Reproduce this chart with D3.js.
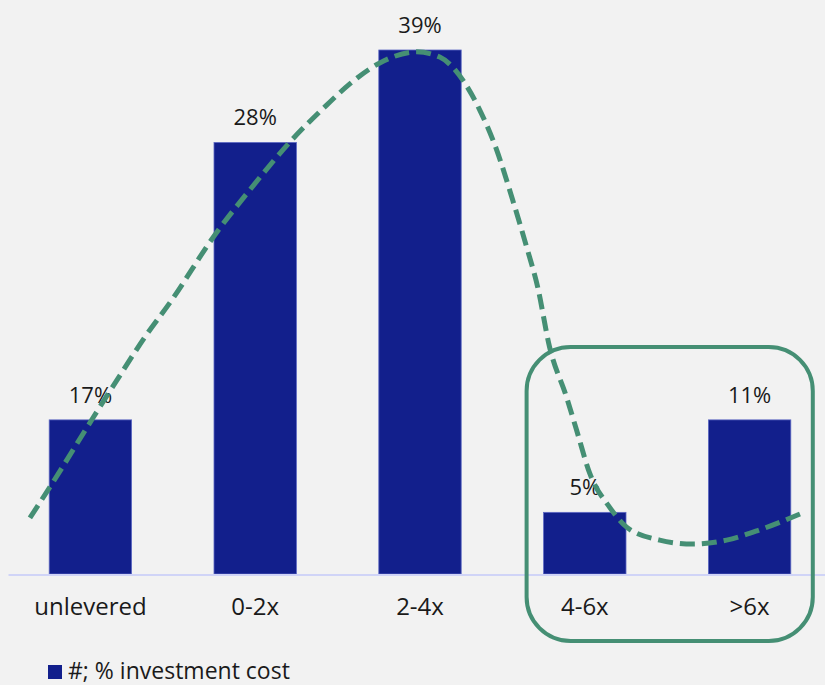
<!DOCTYPE html>
<html>
<head>
<meta charset="utf-8">
<script src="https://cdn.jsdelivr.net/npm/d3@7"></script>
<style>
  html, body { margin: 0; padding: 0; background: #f2f2f2; }
  svg { display: block; }
  text { font-family: "Open Sans", "DejaVu Sans", sans-serif; fill: #1a1a1a; }
</style>
</head>
<body>
<svg id="chart" width="825" height="685"></svg>
<script>
// Leverage buckets
const categories = ["unlevered", "0-2x", "2-4x", "4-6x", ">6x"];
// Number of deals per bucket (bar height)
const dealCounts = [5, 14, 17, 2, 5];
// Share of total investment cost per bucket (label above bar)
const costShares = [17, 28, 39, 5, 11];
// Buckets framed by the highlight box
const highlighted = ["4-6x", ">6x"];
// Hand-drawn trend curve: position along the category axis (0 = first bucket) and deal count
const trendPos   = [-0.367, -0.246, 0.015, 0.161, 0.331, 0.494, 0.755, 0.967, 1.222, 1.435, 1.574, 1.756, 1.980, 2.120, 2.259, 2.362, 2.465, 2.562, 2.647, 2.714, 2.786, 2.889, 2.950, 3.029, 3.150, 3.254, 3.454, 3.654, 3.860, 4.060, 4.333];
const trendCount = [1.82, 2.82, 5.06, 6.29, 7.69, 8.89, 11.00, 12.46, 14.08, 15.22, 15.90, 16.58, 16.94, 16.77, 16.03, 15.06, 13.76, 12.14, 10.61, 9.31, 7.37, 5.74, 4.67, 3.28, 2.17, 1.52, 1.10, 0.97, 1.10, 1.43, 2.01];
const legendLabel = "#; % investment cost";

const barColor = "#121f8c";
const green = "#458f74";

const svg = d3.select("#chart");

const x = d3.scaleBand()
  .domain(categories)
  .range([8, 832])
  .paddingInner(0.5)
  .paddingOuter(0.25);

const y = d3.scaleLinear()
  .domain([0, d3.max(dealCounts)])
  .range([574, 50]);

const bw = x.bandwidth();
const xPos = d3.scaleLinear()
  .domain([0, categories.length - 1])
  .range([x(categories[0]) + bw / 2, x(categories[categories.length - 1]) + bw / 2]);

const rows = categories.map((c, i) => ({ cat: c, count: dealCounts[i], share: costShares[i] }));

// Bars
svg.append("g").selectAll("rect")
  .data(rows)
  .join("rect")
  .attr("x", d => x(d.cat))
  .attr("y", d => y(d.count))
  .attr("width", bw)
  .attr("height", d => y(0) - y(d.count))
  .attr("fill", barColor)
  .attr("stroke", "#5d68c4")
  .attr("stroke-width", 0.8);

// Category axis
const axis = svg.append("g")
  .attr("transform", `translate(0,${y(0) + 0.5})`)
  .call(d3.axisBottom(x).tickSize(0).tickSizeOuter(0));
axis.select(".domain").attr("stroke", "#d0d4f7").attr("stroke-width", 2);
axis.selectAll(".tick text")
  .attr("y", 40)
  .attr("dy", 0)
  .attr("font-size", 24)
  .attr("font-family", "'Open Sans', 'DejaVu Sans', sans-serif")
  .attr("fill", "#1a1a1a");

// Value labels
svg.append("g").selectAll("text")
  .data(rows)
  .join("text")
  .attr("x", d => x(d.cat) + bw / 2)
  .attr("y", d => y(d.count) - 17)
  .attr("text-anchor", "middle")
  .attr("font-size", 22)
  .text(d => d.share + "%");

// Highlight box around the high-leverage buckets
const hx0 = x(highlighted[0]) - 17;
const hx1 = x(highlighted[highlighted.length - 1]) + bw + 22;
svg.append("rect")
  .attr("x", hx0)
  .attr("y", 347)
  .attr("width", hx1 - hx0)
  .attr("height", 294)
  .attr("rx", 44)
  .attr("ry", 44)
  .attr("fill", "none")
  .attr("stroke", green)
  .attr("stroke-width", 4);

// Dashed trend curve
const line = d3.line()
  .x(d => xPos(d[0]))
  .y(d => y(d[1]))
  .curve(d3.curveMonotoneX);
svg.append("path")
  .datum(trendPos.map((p, i) => [p, trendCount[i]]))
  .attr("d", line)
  .attr("fill", "none")
  .attr("stroke", green)
  .attr("stroke-width", 5)
  .attr("stroke-dasharray", "15 7");

// Legend
const legend = svg.append("g").attr("transform", "translate(48,665)");
legend.append("rect")
  .attr("width", 14)
  .attr("height", 14)
  .attr("fill", barColor);
legend.append("text")
  .attr("x", 20)
  .attr("y", 14)
  .attr("font-size", 23)
  .text(legendLabel);
</script>
</body>
</html>
